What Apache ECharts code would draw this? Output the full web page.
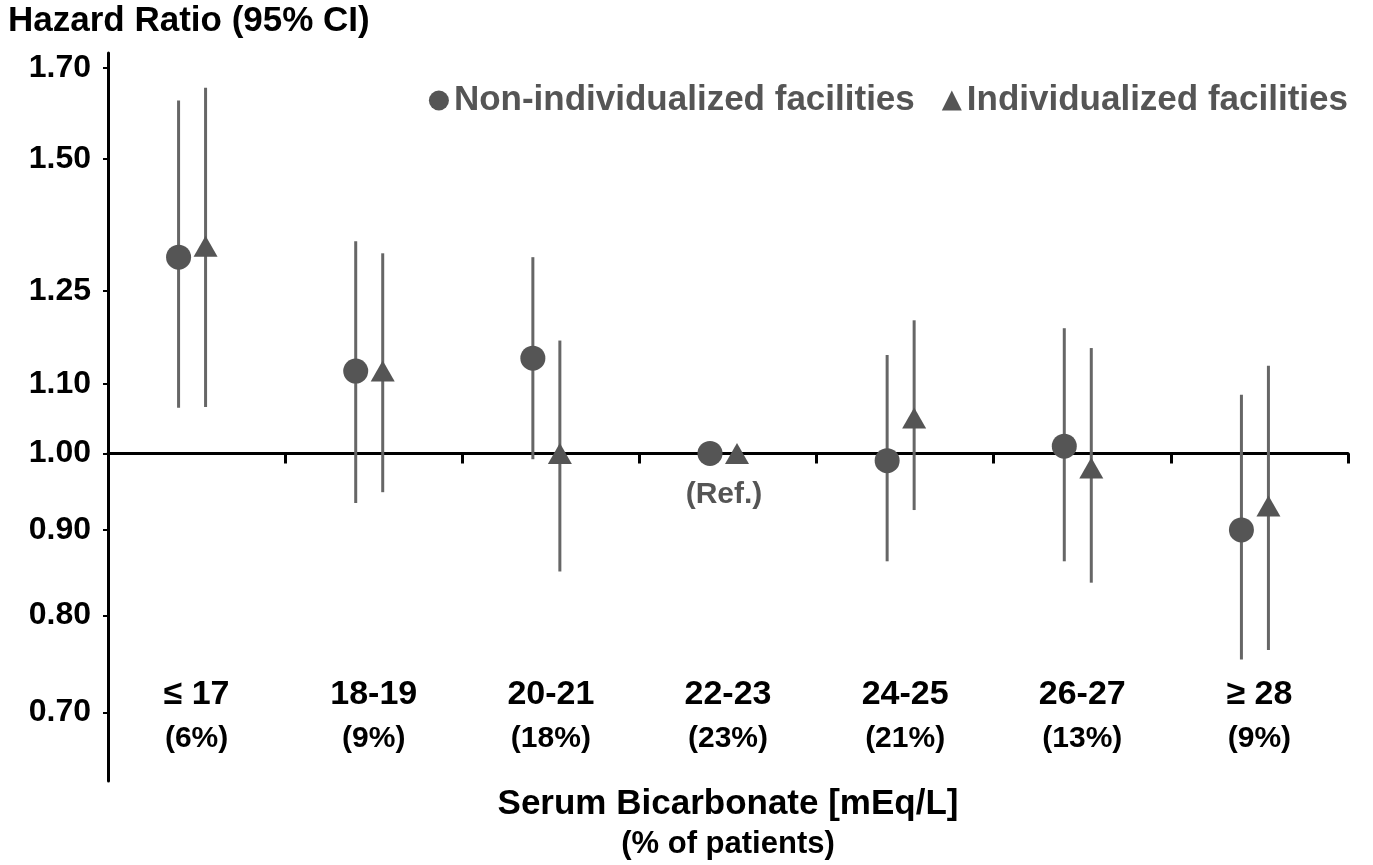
<!DOCTYPE html>
<html>
<head>
<meta charset="utf-8">
<title>Hazard Ratio by Serum Bicarbonate</title>
<script src="https://cdn.jsdelivr.net/npm/echarts@6/dist/echarts.min.js"></script>
<style>
html, body { margin: 0; padding: 0; background: #fff; }
#main { width: 1373px; height: 865px; }
</style>
</head>
<body>
<div id="main"></div>
<script>
// categories (serum bicarbonate, mEq/L) and share of patients
var categories = ['≤ 17', '18-19', '20-21', '22-23', '24-25', '26-27', '≥ 28'];
var patientShare = ['(6%)', '(9%)', '(18%)', '(23%)', '(21%)', '(13%)', '(9%)'];

// non-individualized facilities: HR and 95% CI
var nonIndivHR   = [1.31, 1.12, 1.14, 1.00, 0.99, 1.01, 0.90];
var nonIndivLow  = [1.065, 0.934, 0.992, null, 0.862, 0.862, 0.753];
var nonIndivHigh = [1.625, 1.339, 1.310, null, 1.145, 1.188, 1.084];

// individualized facilities: HR and 95% CI
var indivHR   = [1.33, 1.12, 1.00, 1.00, 1.05, 0.98, 0.93];
var indivLow  = [1.066, 0.948, 0.850, null, 0.925, 0.837, 0.763];
var indivHigh = [1.654, 1.317, 1.168, null, 1.201, 1.156, 1.128];

// y axis (log scale) tick labels and range
var yTicks = [0.70, 0.80, 0.90, 1.00, 1.10, 1.25, 1.50, 1.70];
var yMin = 0.637, yMax = 1.735;

var refIndex = 3;
var markColor = '#555555';
var barColor = '#666666';
var font = 'Liberation Sans, Arial, sans-serif';

function ln(v) { return v == null ? null : Math.log(v); }

// error bar item: [category index, ln(low), ln(high)]
function ciData(low, high) {
    var out = [];
    for (var i = 0; i < low.length; i++) {
        if (low[i] == null) continue;
        out.push([i, ln(low[i]), ln(high[i])]);
    }
    return out;
}

function ciRender(dx) {
    return function (params, api) {
        var p1 = api.coord([api.value(0), api.value(1)]);
        var p2 = api.coord([api.value(0), api.value(2)]);
        return {
            type: 'line',
            shape: { x1: p1[0] + dx, y1: p1[1], x2: p2[0] + dx, y2: p2[1] },
            style: { stroke: barColor, lineWidth: 3 }
        };
    };
}

var nonIndivPts = nonIndivHR.map(function (v, i) {
    if (i === refIndex) {
        return {
            value: ln(v),
            label: {
                show: true, position: 'bottom', distance: 14, offset: [14, 0],
                formatter: '(Ref.)', color: markColor,
                fontSize: 30, fontWeight: 'bold', fontFamily: font
            }
        };
    }
    return ln(v);
});
var indivPts = indivHR.map(ln);

var myChart = echarts.init(document.getElementById('main'));
var option = {
    backgroundColor: '#fff',
    animation: false,
    textStyle: { fontFamily: font },
    grid: { left: 108, right: 25, top: 53, bottom: 78 },
    legend: {
        data: ['Non-individualized facilities', 'Individualized facilities'],
        right: 20, top: 78,
        itemWidth: 20, itemHeight: 20, itemGap: 27,
        textStyle: { color: markColor, fontSize: 35, fontWeight: 'bold', fontFamily: font }
    },
    xAxis: [{
        type: 'category',
        data: categories,
        position: 'bottom',
        axisLine: { onZero: true, lineStyle: { color: '#000', width: 3 } },
        axisTick: { show: true, length: 10, lineStyle: { color: '#000', width: 3 } },
        axisLabel: { show: false },
        splitLine: { show: false }
    }, {
        type: 'category',
        data: categories,
        position: 'bottom',
        axisLine: { show: false, onZero: false },
        axisTick: { show: false },
        axisLabel: {
            inside: true, margin: 20,
            formatter: function (v, i) { return '{a|' + v + '}\n{b|' + patientShare[i] + '}'; },
            rich: {
                a: { fontSize: 34, fontWeight: 'bold', color: '#000', lineHeight: 44, fontFamily: font },
                b: { fontSize: 30, fontWeight: 'bold', color: '#000', lineHeight: 44, fontFamily: font }
            }
        },
        name: '{a|Serum Bicarbonate [mEq/L]}\n{b|(% of patients)}',
        nameLocation: 'middle',
        nameGap: 0,
        nameTextStyle: {
            rich: {
                a: { fontSize: 35, fontWeight: 'bold', color: '#000', lineHeight: 40, fontFamily: font },
                b: { fontSize: 31, fontWeight: 'bold', color: '#000', lineHeight: 40, fontFamily: font }
            }
        }
    }],
    yAxis: {
        type: 'value',
        min: Math.log(yMin),
        max: Math.log(yMax),
        name: 'Hazard Ratio (95% CI)',
        nameLocation: 'end',
        nameGap: 14,
        nameTextStyle: {
            align: 'left', padding: [0, 0, 0, -100],
            color: '#000', fontSize: 35, fontWeight: 'bold', fontFamily: font
        },
        axisLine: { show: true, lineStyle: { color: '#000', width: 3 } },
        axisTick: { show: true, length: 5, customValues: yTicks.map(ln), lineStyle: { color: '#000', width: 2 } },
        axisLabel: {
            customValues: yTicks.map(ln),
            margin: 17,
            color: '#000', fontSize: 32, fontWeight: 'bold', fontFamily: font,
            formatter: function (v) { return Math.exp(v).toFixed(2); }
        },
        splitLine: { show: false }
    },
    series: [{
        name: 'ci-non',
        type: 'custom',
        xAxisIndex: 0,
        renderItem: ciRender(-18),
        data: ciData(nonIndivLow, nonIndivHigh),
        z: 1, silent: true
    }, {
        name: 'ci-indiv',
        type: 'custom',
        xAxisIndex: 0,
        renderItem: ciRender(9),
        data: ciData(indivLow, indivHigh),
        z: 1, silent: true
    }, {
        name: 'Non-individualized facilities',
        type: 'scatter',
        xAxisIndex: 0,
        symbol: 'circle',
        symbolSize: 25,
        symbolOffset: [-18, 0],
        itemStyle: { color: markColor, opacity: 1 },
        data: nonIndivPts,
        z: 3
    }, {
        name: 'Individualized facilities',
        type: 'scatter',
        xAxisIndex: 0,
        symbol: 'triangle',
        symbolSize: [24, 21],
        symbolOffset: [9, 0],
        itemStyle: { color: markColor, opacity: 1 },
        data: indivPts,
        z: 3
    }]
};
myChart.setOption(option);
</script>
</body>
</html>
